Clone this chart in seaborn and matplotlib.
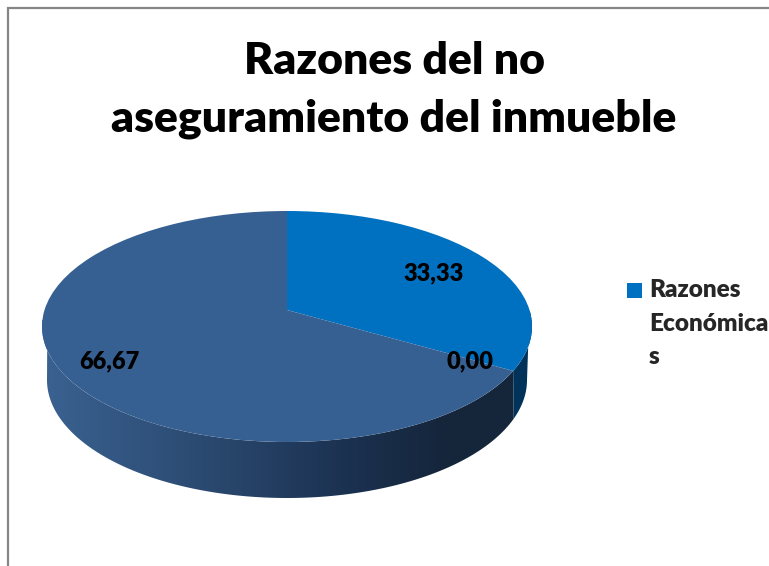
import numpy as np
import matplotlib
matplotlib.use("Agg")
import matplotlib.pyplot as plt
from matplotlib.colors import LinearSegmentedColormap
from matplotlib.legend_handler import HandlerPatch
from matplotlib.patches import Polygon, Rectangle
from matplotlib.transforms import Transform
import seaborn as sns

# data
segment_names = ["Razones Económicas", "Otras", "Sin razón"]
segment_values = [33.33, 0.00, 66.67]
segment_labels = ["33,33", "0,00", "66,67"]
legend_label = "Razones\nEconómica\ns"
title_text = "Razones del no\naseguramiento del inmueble"

# styling
sns.set_theme(style="white")
plt.rcParams["font.family"] = ["Lato", "DejaVu Sans"]
top_colors = sns.color_palette(["#0070C0", "#376092", "#376092"])
wall_blue = "#00325A"
wall_cmap = LinearSegmentedColormap.from_list(
    "wall", [(0, "#3A6291"), (0.3, "#2D4D75"), (0.65, "#1B3150"), (0.85, "#15263B"), (1, "#15263B")])

CX, CY = 287.0, 310.0
K = 33.0 / 231.0
AX_R = 245.0 * np.sqrt(1 - K ** 2)
AY_R = 99.0 * (1 + K)


class Tilt(Transform):
    """Perspective view of the unit-circle pie, output in image pixels."""
    input_dims = output_dims = 2

    def transform_non_affine(self, xy):
        xy = np.asarray(xy, dtype=float)
        d = 1 + K * xy[:, 1]
        return np.column_stack([CX + AX_R * xy[:, 0] / d, CY - AY_R * xy[:, 1] / d])


tilt = Tilt()
fig = plt.figure(figsize=(7.69, 5.66), dpi=100)
ax = fig.add_axes([0, 0, 1, 1])

wedges, _ = ax.pie(segment_values, colors=top_colors, startangle=90,
                   counterclock=False, radius=1)
ax.set_aspect("auto")
for w in wedges:
    w.set_transform(tilt + ax.transData)
    w.set_zorder(3)
    w.set_linewidth(0)

# side wall of the disc, from the rim of the top face to a lower rim
def rim(deg):
    a = np.radians(deg)
    return tilt.transform_non_affine(np.column_stack([np.cos(a), np.sin(a)]))

def lower(deg):
    a = np.radians(deg)
    return np.column_stack([287 + 240 * np.cos(a), 380 - 118 * np.sin(a)])

split = -360 * segment_values[0] / 100 + 90
low_split = np.degrees(np.arctan2(-(418 - 380) / 118, (510 - 287) / 240))
top_main = rim(np.linspace(split, -180 - 4, 200))
low_main = lower(np.linspace(-180, low_split, 200))
wall = Polygon(np.vstack([top_main, low_main]), closed=True, transform=ax.transData, fc="none", ec="none")
ax.add_patch(wall)
grad = np.linspace(0, 1, 256).reshape(1, -1)
im = ax.imshow(grad, cmap=wall_cmap, extent=(42, 515, 500, 320), aspect="auto", zorder=1)
im.set_clip_path(wall)

top_blue = rim(np.linspace(split, 0, 60))
low_blue = lower(np.linspace(0, low_split, 40))
ax.add_patch(Polygon(np.vstack([top_blue, low_blue]), closed=True, fc=wall_blue, ec="none", zorder=2))
ax.set_xlim(0, 769)
ax.set_ylim(566, 0)

# frame of the chart
ax.plot([8, 8, 769], [566, 8, 8], color="#868686", lw=1.6, solid_joinstyle="miter", zorder=5)

# value labels
label_xy = [(434, 273), (470, 361), (109, 361)]
for txt, (lx, ly) in zip(segment_labels, label_xy):
    ax.text(lx, ly, txt, ha="center", va="center", fontsize=17, fontweight="heavy", color="black", zorder=6)

ax.text(394, 90, title_text, ha="center", va="center", fontsize=32, fontweight="heavy",
        color="black", linespacing=1.56, zorder=6)


def square_handle(legend, orig_handle, xdescent, ydescent, width, height, fontsize):
    return Rectangle((-xdescent, height + 12.5), 10.8, 10.8)


leg = ax.legend([wedges[0]], [legend_label], loc="upper left", bbox_to_anchor=(627 / 769, 1 - 279 / 566),
                borderaxespad=0, frameon=False, handlelength=0.62, handletextpad=0.28,
                labelspacing=0, borderpad=0, prop={"size": 17.5, "weight": "heavy"},
                handler_map={wedges[0]: HandlerPatch(patch_func=square_handle)})
for t in leg.get_texts():
    t.set_linespacing(1.65)

fig.savefig("out.png", dpi=100, facecolor="white")
